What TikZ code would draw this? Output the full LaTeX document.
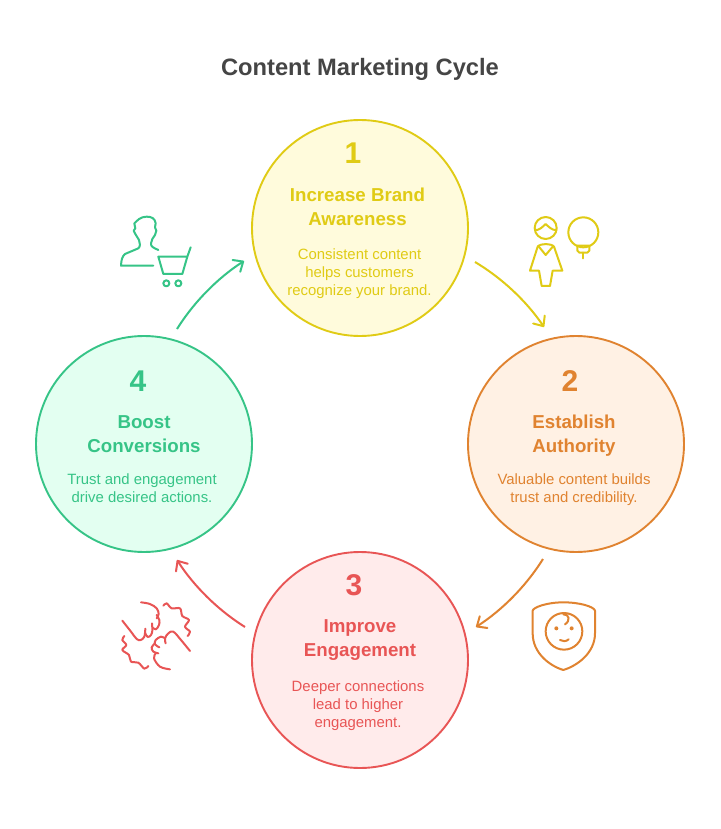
\documentclass[tikz,border=0pt]{standalone}
\usepackage{fontspec}
\setmainfont{Liberation Sans}
\usetikzlibrary{arrows.meta,calc}
\definecolor{cy}{HTML}{E0CB15}\definecolor{fy}{HTML}{FFFBDC}
\definecolor{co}{HTML}{E08330}\definecolor{fo}{HTML}{FFF1E4}
\definecolor{cr}{HTML}{E85555}\definecolor{fr}{HTML}{FFEBEB}
\definecolor{cg}{HTML}{36C487}\definecolor{fg}{HTML}{E3FFF1}
\tikzset{
 disc/.style={circle,draw=#1,line width=1.9pt,minimum size=216pt,inner sep=0pt},
 num/.style={text=#1,font=\fontsize{30}{30}\selectfont\bfseries,inner sep=0pt},
 head/.style={text=#1,font=\fontsize{18.7}{24}\selectfont\bfseries,align=center,inner sep=0pt},
 body/.style={text=#1,font=\fontsize{14.9}{18}\selectfont,align=center,inner sep=0pt},
 flow/.style={draw=#1,line width=2pt,-{Straight Barb[length=8pt,width=14pt,round]},bend left=12.5,looseness=0.85},
 icon/.style={draw=#1,line width=2pt,line cap=round,line join=round},
 iconz/.style={x=0.3333pt,y=-0.3333pt}
}
\begin{document}
\begin{tikzpicture}[x=1pt,y=-1pt]
\useasboundingbox (0,0) rectangle (720,829);
\fill[white] (0,0) rectangle (720,829);
\node[text=black!73,font=\fontsize{23.7}{24}\selectfont\bfseries,inner sep=0pt] (title) at (360,69) {Content Marketing Cycle};

\node[disc=cy,fill=fy] (c1) at (360,228) {};
\node[disc=co,fill=fo] (c2) at (576,444) {};
\node[disc=cr,fill=fr] (c3) at (360,660) {};
\node[disc=cg,fill=fg] (c4) at (144,444) {};

\node[num=cy] (n1) at (353,153) {1};
\node[head=cy] (h1) at (357.5,207) {Increase Brand\\Awareness};
\node[body=cy] (b1) at (359.5,274) {Consistent content\\helps customers\\recognize your brand.};
\node[num=co] (n2) at (570,381) {2};
\node[head=co] (h2) at (574,436) {Establish\\Authority};
\node[body=co] (b2) at (574,490) {Valuable content builds\\trust and credibility.};
\node[num=cr] (n3) at (354,585) {3};
\node[head=cr] (h3) at (360,640) {Improve\\Engagement};
\node[body=cr] (b3) at (358,706) {Deeper connections\\lead to higher\\engagement.};
\node[num=cg] (n4) at (138,381) {4};
\node[head=cg] (h4) at (144,434) {Boost\\Conversions};
\node[body=cg] (b4) at (142,488) {Trust and engagement\\drive desired actions.};

\coordinate (a1s) at ($(c1)+(115,34)$);
\coordinate (a1e) at ($(c2)+(-32,-117)$);
\coordinate (a2s) at ($(c2)+(-33,115)$);
\coordinate (a2e) at ($(c3)+(116,-33)$);
\coordinate (a3s) at ($(c3)+(-115,-33)$);
\coordinate (a3e) at ($(c4)+(33,116)$);
\coordinate (a4s) at ($(c4)+(33,-115)$);
\coordinate (a4e) at ($(c1)+(-116,33)$);
\draw[flow=cy] (a1s) to (a1e);
\draw[flow=co] (a2s) to (a2e);
\draw[flow=cr] (a3s) to (a3e);
\draw[flow=cg] (a4s) to (a4e);

% customer icon
\begin{scope}[shift={(100,200)},iconz]
\draw[icon=cg] (160,197) -- (63,197) .. controls (64,180) and (66,170) .. (75,162) -- (115,145) .. controls (122,140) and (120,128) .. (117,120) -- (106,102) -- (101,92) -- (106,85) -- (103,70) .. controls (112,62) and (120,50) .. (140,50) .. controls (155,50) and (165,55) .. (167,70) -- (165,82) -- (169,92) -- (165,105) .. controls (160,113) and (153,120) .. (153,130) .. controls (152,140) and (160,143) .. (175,150);
\draw[icon=cg] (272,142) -- (262,170) -- (175,170) -- (190,222) -- (247,222) -- (262,170);
\draw[icon=cg] (199,250) circle[radius=9];
\draw[icon=cg] (235,250) circle[radius=9];
\end{scope}
% person and bulb icon
\begin{scope}[shift={(510,200)},iconz]
\draw[icon=cy] (107,84) circle[radius=33];
\draw[icon=cy] (75,90) .. controls (88,92) and (98,80) .. (107,72) .. controls (116,80) and (126,92) .. (140,90);
\draw[icon=cy] (60,212) -- (83,140) .. controls (90,130) and (125,130) .. (132,140) -- (157,212) -- (128,212) -- (120,258) -- (95,258) -- (87,212) -- cycle;
\draw[icon=cy] (85,138) -- (107,165) -- (130,138);
\draw[icon=cy] (220,97) circle[radius=45];
\draw[icon=cy] (202,137) -- (202,152) -- (208,158) -- (232,158) -- (238,152) -- (238,137) -- cycle;
\draw[icon=cy] (220,158) -- (220,175);
\end{scope}
% baby shield icon
\begin{scope}[shift={(510,590)},iconz]
\draw[icon=co] (68,62) .. controls (70,52) and (110,37) .. (160,37) .. controls (210,37) and (252,50) .. (255,62) -- (255,130) .. controls (255,190) and (200,228) .. (160,240) .. controls (120,228) and (68,190) .. (68,130) -- cycle;
\draw[icon=co] (162,124) circle[radius=55];
\draw[icon=co] (160,73) .. controls (178,72) and (182,92) .. (165,103);
\fill[co] (139,115) circle[radius=6];
\fill[co] (185,115) circle[radius=6];
\draw[icon=co] (150,150) .. controls (158,155) and (168,155) .. (176,148);
\end{scope}
% hands icon
\begin{scope}[shift={(105,590)},iconz]
\draw[icon=cr] plot[smooth,tension=0.6] coordinates {(52,92) (78,125) (95,147) (107,150) (118,140) (121,116)};
\draw[icon=cr] plot[smooth,tension=0.6] coordinates {(121,130) (128,141) (138,135) (142,122) (141,100)};
\draw[icon=cr] plot[smooth,tension=0.6] coordinates {(143,113) (153,118) (162,105) (163,90) (155,75)};
\draw[icon=cr] plot[smooth,tension=0.6] coordinates {(108,37) (135,42) (155,55) (161,72) (155,85)};
\draw[icon=cr] plot[smooth,tension=0.55] coordinates {(58,138) (52,150) (64,165) (52,180) (72,195) (78,215) (100,218) (118,236) (130,228)};
\draw[icon=cr] plot[smooth,tension=0.55] coordinates {(175,47) (185,40) (200,55) (225,55) (232,78) (252,90) (240,110) (255,125) (248,138)};
\draw[icon=cr] plot[smooth,tension=0.6] coordinates {(255,183) (228,150) (205,125) (190,130) (180,145) (182,160)};
\draw[icon=cr] plot[smooth,tension=0.6] coordinates {(180,145) (168,140) (152,150) (150,163) (163,172)};
\draw[icon=cr] plot[smooth,tension=0.6] coordinates {(150,160) (140,172) (145,185) (160,190)};
\draw[icon=cr] plot[smooth,tension=0.6] coordinates {(152,190) (147,205) (165,230) (195,238)};
\end{scope}
\end{tikzpicture}
\end{document}
